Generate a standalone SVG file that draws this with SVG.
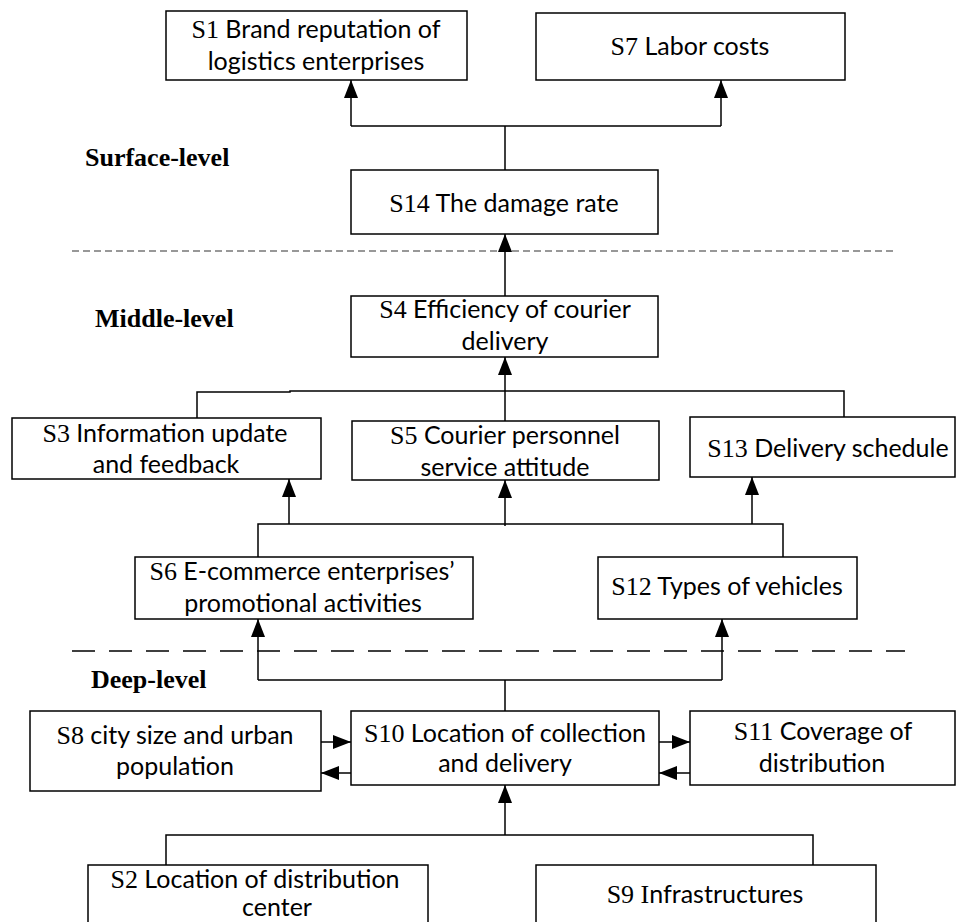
<svg xmlns="http://www.w3.org/2000/svg" width="956" height="922" viewBox="0 0 956 922">
<style>
.box{fill:#fff;stroke:#000;stroke-width:1.5}
.t{font-family:Lato,"Liberation Sans",sans-serif;font-size:25px;fill:#000;text-anchor:middle}
.t tspan.s{font-family:"Liberation Serif",serif;font-size:26px}
.lvl{font-family:"Liberation Serif",serif;font-weight:bold;font-size:26px;fill:#000}
.c{fill:none;stroke:#000;stroke-width:1.5}
.ar{fill:none;stroke:#000;stroke-width:1.5;marker-end:url(#a)}
</style>
<defs>
<marker id="a" markerWidth="18" markerHeight="14" refX="18" refY="7" orient="auto" markerUnits="userSpaceOnUse"><path d="M0,0 L18,7 L0,14 Z" fill="#000"/></marker>
</defs>
<rect width="956" height="922" fill="#fff"/>
<g id="levels">
<line x1="72" y1="251" x2="897" y2="251" stroke="#777" stroke-width="1.4" stroke-dasharray="7 4"/>
<line x1="72" y1="651" x2="905" y2="651" stroke="#000" stroke-width="1.5" stroke-dasharray="23 14"/>
<text class="lvl" x="85" y="166">Surface-level</text>
<text class="lvl" x="95" y="327">Middle-level</text>
<text class="lvl" x="91" y="688">Deep-level</text>
</g>
<g id="connectors">
<path class="c" d="M505,170 V126 M351,126 H721"/>
<path class="ar" d="M351,126 V80"/>
<path class="ar" d="M721,126 V80"/>
<path class="ar" d="M505,296 V234"/>
<path class="c" d="M197,418 V392 H290 V391 H844 V417"/>
<path class="ar" d="M505,421 V357"/>
<path class="c" d="M258,557 V524 H783 V557"/>
<path class="ar" d="M289,524 V479"/>
<path class="ar" d="M505,526 V480"/>
<path class="ar" d="M752,524 V477"/>
<path class="c" d="M505,711 V680 H258 M505,680 H722"/>
<path class="ar" d="M258,680 V619"/>
<path class="ar" d="M722,680 V619"/>
<path class="ar" d="M321,742 H351"/>
<path class="ar" d="M351,773 H321"/>
<path class="ar" d="M659,742 H690"/>
<path class="ar" d="M690,773 H659"/>
<path class="c" d="M166,865 V835 H813 V865"/>
<path class="ar" d="M505,835 V785"/>
</g>
<g id="S1"><rect class="box" x="166" y="11" width="301" height="69"/>
<text class="t" x="316" y="38"><tspan class="s" style="font-family:'Liberation Serif',serif">S1</tspan> Brand reputation of</text>
<text class="t" x="316" y="70">logistics enterprises</text></g>
<g id="S7"><rect class="box" x="536" y="13" width="309" height="67"/>
<text class="t" x="690" y="55"><tspan class="s" style="font-family:'Liberation Serif',serif">S7</tspan>  Labor costs</text></g>
<g id="S14"><rect class="box" x="351" y="170" width="307" height="64"/>
<text class="t" x="504" y="212"><tspan class="s" style="font-family:'Liberation Serif',serif">S14</tspan> The damage rate</text></g>
<g id="S4"><rect class="box" x="351" y="296" width="307" height="61"/>
<text class="t" x="505" y="318"><tspan class="s" style="font-family:'Liberation Serif',serif">S4</tspan> Efficiency of courier</text>
<text class="t" x="505" y="350">delivery</text></g>
<g id="S3"><rect class="box" x="12" y="418" width="309" height="61"/>
<text class="t" x="165" y="442"><tspan class="s" style="font-family:'Liberation Serif',serif">S3</tspan> Information update</text>
<text class="t" x="166" y="473">and feedback</text></g>
<g id="S5"><rect class="box" x="352" y="421" width="307" height="59"/>
<text class="t" x="505" y="444"><tspan class="s" style="font-family:'Liberation Serif',serif">S5</tspan> Courier personnel</text>
<text class="t" x="505" y="476">service attitude</text></g>
<g id="S13"><rect class="box" x="690" y="417" width="265" height="60"/>
<text class="t" x="828" y="457"><tspan class="s" style="font-family:'Liberation Serif',serif">S13</tspan> Delivery schedule</text></g>
<g id="S6"><rect class="box" x="135" y="557" width="338" height="62"/>
<text class="t" x="302" y="580"><tspan class="s" style="font-family:'Liberation Serif',serif">S6</tspan> E-commerce enterprises’</text>
<text class="t" x="303" y="612">promotional activities</text></g>
<g id="S12"><rect class="box" x="598" y="557" width="259" height="62"/>
<text class="t" x="727" y="595"><tspan class="s" style="font-family:'Liberation Serif',serif">S12</tspan> Types of vehicles</text></g>
<g id="S8"><rect class="box" x="30" y="711" width="291" height="80"/>
<text class="t" x="175" y="744"><tspan class="s" style="font-family:'Liberation Serif',serif">S8</tspan> city size and urban</text>
<text class="t" x="175" y="775">population</text></g>
<g id="S10"><rect class="box" x="351" y="711" width="308" height="74"/>
<text class="t" x="505" y="742"><tspan class="s" style="font-family:'Liberation Serif',serif">S10</tspan> Location of collection</text>
<text class="t" x="505" y="772">and delivery</text></g>
<g id="S11"><rect class="box" x="690" y="711" width="265" height="74"/>
<text class="t" x="823" y="740"><tspan class="s" style="font-family:'Liberation Serif',serif">S11</tspan> Coverage of</text>
<text class="t" x="822" y="772">distribution</text></g>
<g id="S2"><rect class="box" x="88" y="865" width="340" height="70"/>
<text class="t" x="255" y="888"><tspan class="s" style="font-family:'Liberation Serif',serif">S2</tspan> Location of distribution</text>
<text class="t" x="277" y="916">center</text></g>
<g id="S9"><rect class="box" x="536" y="865" width="340" height="70"/>
<text class="t" x="705" y="903"><tspan class="s" style="font-family:'Liberation Serif',serif">S9 I</tspan>nfrastructures</text></g>
</svg>
